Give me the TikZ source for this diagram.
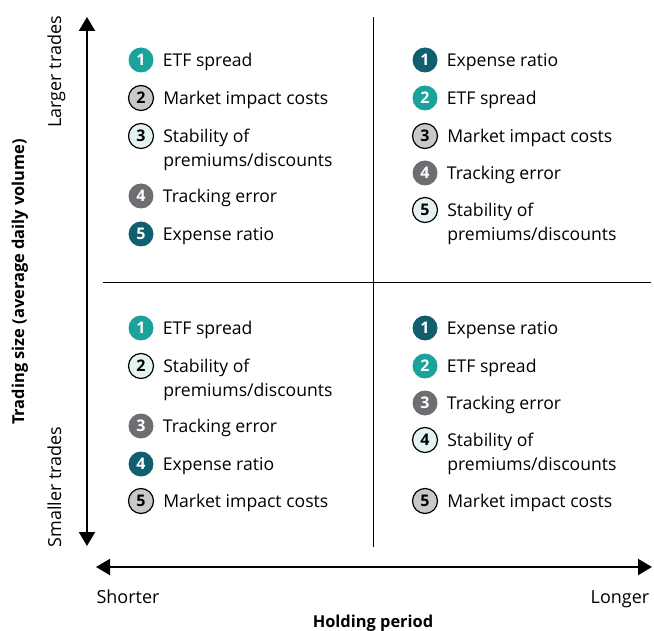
\documentclass[tikz,border=0pt]{standalone}
\usepackage{fontspec}
\setmainfont{Open Sans}
\usetikzlibrary{
    arrows.meta,
    positioning
}
\definecolor{teallt}{HTML}{1AA39A}
\definecolor{tealdk}{HTML}{0F5F6E}
\definecolor{greylt}{HTML}{C9C9CA}
\definecolor{greydk}{HTML}{6D6E71}
\definecolor{mintlt}{HTML}{E4F3F1}
\tikzset{
    num/.style={circle, minimum size=25pt, inner sep=0pt, font=\fontsize{16}{16}\selectfont\bfseries},
    spread/.style={num, fill=teallt, text=white},
    expense/.style={num, fill=tealdk, text=white},
    impact/.style={num, fill=greylt, draw=black, line width=1.2pt},
    stab/.style={num, fill=mintlt, draw=black, line width=1.2pt},
    track/.style={num, fill=greydk, text=white},
    item/.style={anchor=mid west, inner sep=0pt, yshift=-3.5pt, font=\fontsize{17.6}{24}\selectfont},
    axis/.style={{Triangle[width=16pt,length=14pt]}-{Triangle[width=16pt,length=14pt]}, line width=2pt},
    side/.style={inner sep=0pt, font=\fontsize{18}{18}\selectfont},
    title/.style={inner sep=0pt, font=\fontsize{16.4}{16.4}\selectfont\bfseries}
}
\newcommand{\twoline}[2]{\begin{tabular}[t]{@{}l@{}}#1\\#2\end{tabular}}

\begin{document}
\begin{tikzpicture}[x=1pt, y=-1pt]
    \useasboundingbox (0,0) rectangle (654,631);

    % axes
    \coordinate (up) at (87,17);
    \coordinate (down) at (87,546);
    \coordinate (left) at (96,567);
    \coordinate (right) at (652,567);
    \draw[axis] (up) -- (down);
    \draw[axis] (left) -- (right);

    % quadrant dividers
    \coordinate (vtop) at (373,17);
    \coordinate (vbot) at (373,547);
    \coordinate (hl) at (103,282);
    \coordinate (hr) at (651,282);
    \draw[line width=0.8pt] (vtop) -- (vbot);
    \draw[line width=0.8pt] (hl) -- (hr);

    \node[side, rotate=90, anchor=base] (large) at (61,72) {Larger trades};
    \node[side, rotate=90, anchor=base] (small) at (61,487) {Smaller trades};
    \node[title, rotate=90, anchor=base] (size) at (24,282) {Trading size (average daily volume)};
    \node[side, anchor=base] (short) at (128,603) {Shorter};
    \node[side, anchor=base] (long) at (620,603) {Longer};
    \node[title, anchor=base] (hold) at (373,627) {Holding period};

    % shorter holding, larger trades
    \node[spread] (tl1) at (141,60) {1};
    \node[impact] (tl2) at (141,98) {2};
    \node[stab] (tl3) at (141,136) {3};
    \node[track] (tl4) at (141,196) {4};
    \node[expense] (tl5) at (141,234) {5};
    \node[right=9pt of tl1, item] {ETF spread};
    \node[right=9pt of tl2, item] {Market impact costs};
    \node[right=9pt of tl3, item] {\twoline{Stability of}{premiums/discounts}};
    \node[right=9pt of tl4, item] {Tracking error};
    \node[right=9pt of tl5, item] {Expense ratio};

    % longer holding, larger trades
    \node[expense] (tr1) at (425,60) {1};
    \node[spread] (tr2) at (425,98) {2};
    \node[impact] (tr3) at (425,136) {3};
    \node[track] (tr4) at (425,173) {4};
    \node[stab] (tr5) at (425,210) {5};
    \node[right=9pt of tr1, item] {Expense ratio};
    \node[right=9pt of tr2, item] {ETF spread};
    \node[right=9pt of tr3, item] {Market impact costs};
    \node[right=9pt of tr4, item] {Tracking error};
    \node[right=9pt of tr5, item] {\twoline{Stability of}{premiums/discounts}};

    % shorter holding, smaller trades
    \node[spread] (bl1) at (141,328) {1};
    \node[stab] (bl2) at (141,366) {2};
    \node[track] (bl3) at (141,426) {3};
    \node[expense] (bl4) at (141,464) {4};
    \node[impact] (bl5) at (141,501) {5};
    \node[right=9pt of bl1, item] {ETF spread};
    \node[right=9pt of bl2, item] {\twoline{Stability of}{premiums/discounts}};
    \node[right=9pt of bl3, item] {Tracking error};
    \node[right=9pt of bl4, item] {Expense ratio};
    \node[right=9pt of bl5, item] {Market impact costs};

    % longer holding, smaller trades
    \node[expense] (br1) at (425,328) {1};
    \node[spread] (br2) at (425,366) {2};
    \node[track] (br3) at (425,403) {3};
    \node[stab] (br4) at (425,440) {4};
    \node[impact] (br5) at (425,501) {5};
    \node[right=9pt of br1, item] {Expense ratio};
    \node[right=9pt of br2, item] {ETF spread};
    \node[right=9pt of br3, item] {Tracking error};
    \node[right=9pt of br4, item] {\twoline{Stability of}{premiums/discounts}};
    \node[right=9pt of br5, item] {Market impact costs};
\end{tikzpicture}
\end{document}
